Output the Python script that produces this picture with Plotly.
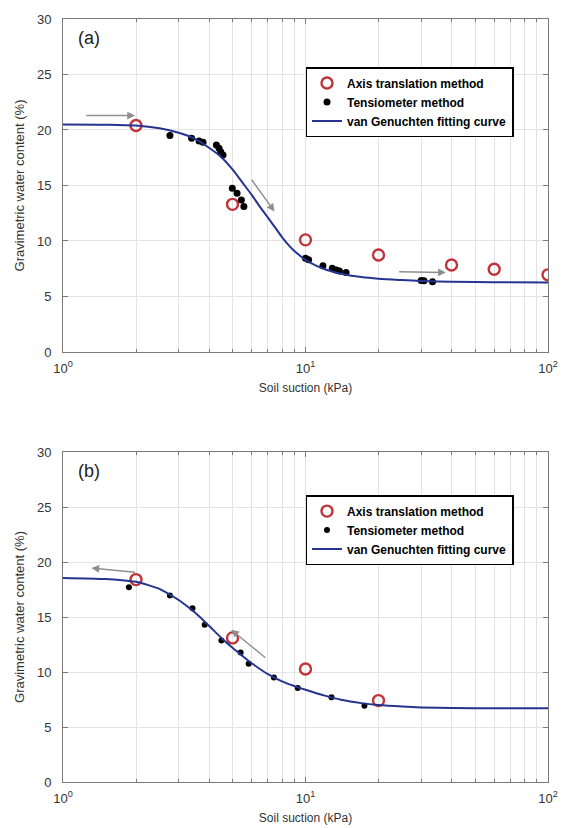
import numpy as np
import plotly.graph_objects as go

# ---------------- data ----------------
# Panel (a)
a_axis_x = [2, 5, 10, 20, 40, 60, 100]
a_axis_y = [20.4, 13.3, 10.1, 8.74, 7.84, 7.45, 6.95]

a_tens_x = [2.76, 3.39, 3.64, 3.78, 4.29, 4.40, 4.47, 4.57, 4.99, 5.22, 5.44, 5.57,
            10.0, 10.3, 11.8, 12.9, 13.4, 13.8, 14.7, 30.0, 30.8, 33.4]
a_tens_y = [19.5, 19.25, 19.0, 18.9, 18.65, 18.35, 18.05, 17.75, 14.75, 14.3, 13.7, 13.1,
            8.44, 8.3, 7.77, 7.54, 7.39, 7.3, 7.15, 6.45, 6.42, 6.33]

a_fit_x = [1, 1.5, 2, 2.5, 3, 3.5, 4, 4.5, 5, 5.5, 6, 6.5, 7, 7.5, 8, 8.5, 9, 10, 11, 12,
           14, 17, 20, 25, 30, 40, 60, 100]
a_fit_y = [20.5, 20.48, 20.4, 20.15, 19.75, 19.2, 18.4, 17.55, 16.45, 15.25, 14.15, 13.05,
           12.1, 11.2, 10.35, 9.65, 9.1, 8.3, 7.8, 7.45, 7.05, 6.75, 6.6, 6.48, 6.4, 6.33,
           6.28, 6.25]

# Panel (b)
b_axis_x = [2, 5, 10, 20]
b_axis_y = [18.4, 13.1, 10.27, 7.4]

b_tens_x = [1.87, 2.76, 3.42, 3.84, 4.5, 5.4, 5.83, 7.41, 9.29, 12.8, 17.5]
b_tens_y = [17.7, 16.96, 15.8, 14.3, 12.87, 11.78, 10.75, 9.5, 8.55, 7.7, 6.94]

b_fit_x = [1, 1.5, 1.75, 2, 2.25, 2.5, 2.75, 3, 3.5, 4, 4.5, 5, 5.5, 6, 7, 8, 9, 10,
           12, 14, 17, 20, 25, 30, 40, 60, 100]
b_fit_y = [18.55, 18.45, 18.35, 18.2, 17.9, 17.55, 17.05, 16.55, 15.4, 14.2, 13.1, 12.2,
           11.45, 10.8, 9.8, 9.15, 8.72, 8.38, 7.85, 7.48, 7.17, 7.0, 6.86, 6.78, 6.72,
           6.7, 6.7]

# arrows: (tail_x, tail_y, head_x, head_y)
a_arrows = [(1.23, 21.3, 1.98, 21.3), (5.94, 15.65, 7.45, 12.65), (24.0, 7.23, 37.9, 7.15)]
b_arrows = [(2.01, 19.05, 1.31, 19.45), (6.93, 11.18, 4.94, 13.85)]

x_major = [1, 10, 100]
x_major_text = ['10<sup>0</sup>', '10<sup>1</sup>', '10<sup>2</sup>']
x_minor = [2, 3, 4, 5, 6, 7, 8, 9, 20, 30, 40, 50, 60, 70, 80, 90]
y_ticks = [0, 5, 10, 15, 20, 25, 30]

names = ['Axis translation method', 'Tensiometer method', 'van Genuchten fitting curve']

RED = '#c0333a'
BLUE = '#25358f'
GRID = '#e3e3e3'
FRAME = '#7a7a7a'

fig = go.Figure()

def add_panel(xa, ya, legend, ax_x, ax_y, t_x, t_y, f_x, f_y, msize):
    fig.add_trace(go.Scatter(x=ax_x, y=ax_y, mode='markers', name=names[0],
                             xaxis=xa, yaxis=ya, legend=legend,
                             marker=dict(symbol='circle-open', size=11, color=RED,
                                         line=dict(width=2.4, color=RED))))
    fig.add_trace(go.Scatter(x=t_x, y=t_y, mode='markers', name=names[1],
                             xaxis=xa, yaxis=ya, legend=legend,
                             marker=dict(symbol='circle', size=msize, color='black')))
    fig.add_trace(go.Scatter(x=f_x, y=f_y, mode='lines', name=names[2],
                             xaxis=xa, yaxis=ya, legend=legend,
                             line=dict(color=BLUE, width=2, shape='spline', smoothing=0.8)))

add_panel('x', 'y', 'legend', a_axis_x, a_axis_y, a_tens_x, a_tens_y, a_fit_x, a_fit_y, 7)
add_panel('x2', 'y2', 'legend2', b_axis_x, b_axis_y, b_tens_x, b_tens_y, b_fit_x, b_fit_y, 6)

ann = []
for (xref, yref, arrows) in [('x', 'y', a_arrows), ('x2', 'y2', b_arrows)]:
    for (tx, ty, hx, hy) in arrows:
        ann.append(dict(x=np.log10(hx), y=hy, ax=np.log10(tx), ay=ty,
                        xref=xref, yref=yref, axref=xref, ayref=yref,
                        showarrow=True, arrowhead=2, arrowsize=1.1, arrowwidth=1.4,
                        arrowcolor='#8e8e8e', text=''))
ann.append(dict(text='(a)', x=0.053, y=0.975, xref='paper', yref='paper', showarrow=False,
                xanchor='center', yanchor='middle', font=dict(size=18, color='#222')))
ann.append(dict(text='(b)', x=0.053, y=0.408, xref='paper', yref='paper', showarrow=False,
                xanchor='center', yanchor='middle', font=dict(size=18, color='#222')))

def xaxis(anchor):
    return dict(type='log', range=[0, 2], anchor=anchor, automargin=False,
                tickmode='array', tickvals=x_major, ticktext=x_major_text,
                ticks='inside', ticklen=5, tickcolor=FRAME, ticklabeloverflow='allow',
                ticklabelstandoff=4,
                showline=True, linecolor=FRAME, linewidth=1, mirror='ticks',
                showgrid=True, gridcolor=GRID, gridwidth=1, zeroline=False,
                minor=dict(tickmode='array', tickvals=x_minor, ticks='inside', ticklen=3,
                           tickcolor=FRAME, showgrid=True, gridcolor=GRID, gridwidth=1),
                tickfont=dict(size=13, color='#333'),
                title=dict(text='Soil suction (kPa)', font=dict(size=12, color='#333'), standoff=9))

def yaxis(anchor, dom):
    return dict(range=[0, 30], anchor=anchor, domain=dom, automargin=False,
                tickmode='array', tickvals=y_ticks, ticklabelstandoff=8,
                ticks='inside', ticklen=5, tickcolor=FRAME,
                showline=True, linecolor=FRAME, linewidth=1, mirror='ticks',
                showgrid=True, gridcolor=GRID, gridwidth=1, zeroline=False,
                tickfont=dict(size=13, color='#333'),
                title=dict(text='Gravimetric water content (%)', font=dict(size=13, color='#333'),
                           standoff=9))

legend_common = dict(bgcolor='white', bordercolor='black', borderwidth=1.5,
                     font=dict(family='Liberation Sans, Arial', size=12, color='black',
                               weight='bold'),
                     xanchor='left', yanchor='top', tracegroupgap=0, itemwidth=30)

fig.update_layout(
    width=561, height=828,
    margin=dict(l=63, r=13, t=19, b=46, autoexpand=False),
    paper_bgcolor='white', plot_bgcolor='white',
    font=dict(family='Liberation Sans, Arial', color='#333'),
    xaxis=xaxis('y'), yaxis=yaxis('x', [0.5636, 1.0]),
    xaxis2=xaxis('y2'), yaxis2=yaxis('x2', [0.0, 0.4325]),
    legend=dict(x=0.5, y=0.937, **legend_common),
    legend2=dict(x=0.5, y=0.376, **legend_common),
    annotations=ann,
    showlegend=True,
)

# remove the browser's default 8px body margin so the figure fills the window exactly
fig.write_html('out.html', config={'displayModeBar': False},
               post_script="document.body.style.margin='0';document.body.style.overflow='hidden';")
